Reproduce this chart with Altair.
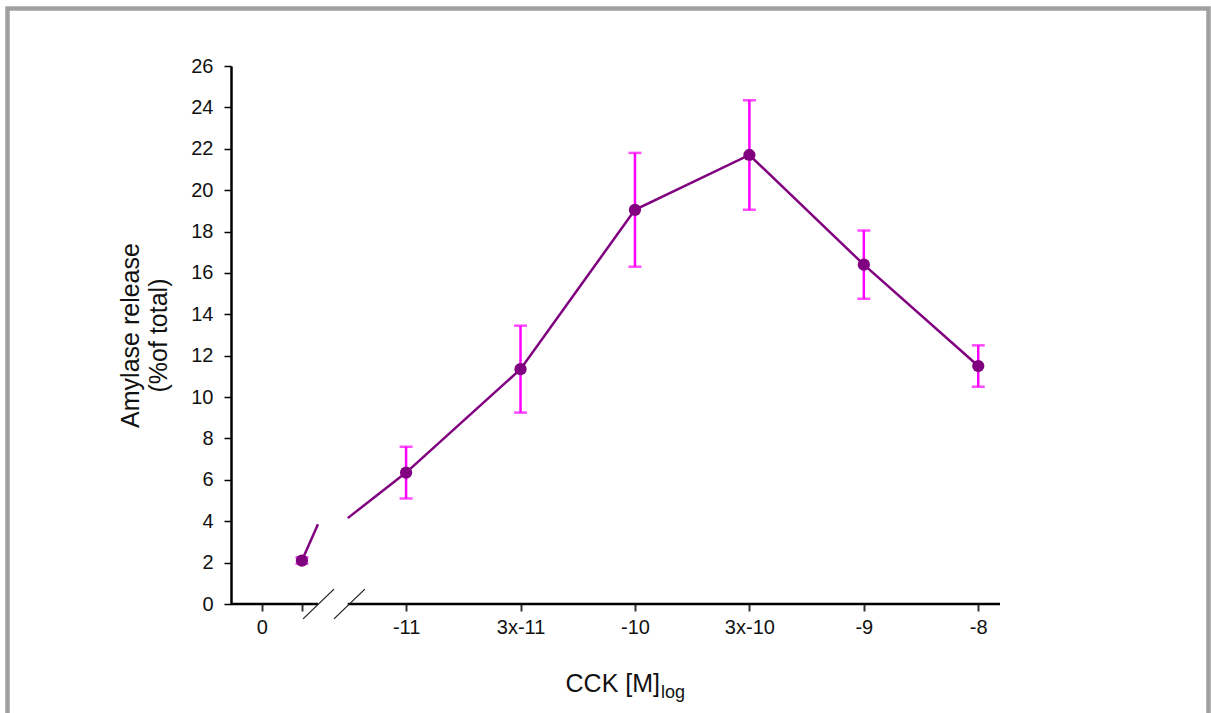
import altair as alt
import pandas as pd

# ---- data ----
tick_labels = ["0", "", "-11", "3x-11", "-10", "3x-10", "-9", "-8"]
tick_slots = [-1.26, -0.91, 0, 1, 2, 3, 4, 5]          # category slots on the x axis
point_slots = [-0.91, 0, 1, 2, 3, 4, 5]
means = [2.1, 6.35, 11.35, 19.05, 21.7, 16.4, 11.5]
errs = [0.15, 1.25, 2.1, 2.75, 2.65, 1.65, 1.0]

# broken connection around the axis break
brk_x = [-0.91, -0.77, -0.51, 0]
brk_y = [2.1, 3.85, 4.15, 6.35]
brk_id = ["a", "a", "b", "b"]

# x-axis line pieces (axis is interrupted at the break)
axis_x1 = [-1.53, -0.51]
axis_x2 = [-0.77, 5.19]
# break slashes
sl_x1 = [-0.90, -0.63]
sl_x2 = [-0.63, -0.36]
sl_y1 = [-0.72, -0.72]
sl_y2 = [0.72, 0.72]

PURPLE = "#800080"
MAGENTA = "#ff00ff"
FONT = "Liberation Sans"

pts = pd.DataFrame({"x": point_slots, "y": means,
                    "lo": [m - e for m, e in zip(means, errs)],
                    "hi": [m + e for m, e in zip(means, errs)]})
main_line = pts[pts["x"] >= 0]
brk = pd.DataFrame({"x": brk_x, "y": brk_y, "id": brk_id})
axis_df = pd.DataFrame({"x": axis_x1, "x2": axis_x2, "y": [0, 0]})
sl_df = pd.DataFrame({"x": sl_x1, "x2": sl_x2, "y": sl_y1, "y2": sl_y2})

label_expr = ("[" + ",".join("'%s'" % l for l in tick_labels) + "][indexof(["
              + ",".join(str(s) for s in tick_slots) + "], datum.value)]")

xs = alt.Scale(domain=[-1.53, 5.19], nice=False, zero=False)
ys = alt.Scale(domain=[0, 26], nice=False, zero=True)

xaxis = alt.Axis(values=tick_slots, labelExpr=label_expr, domain=False, grid=False,
                 ticks=True, tickSize=7, tickWidth=2, tickColor="#333",
                 labelFontSize=20, labelFont=FONT, labelColor="#111", labelPadding=6,
                 title=None)
yaxis = alt.Axis(values=list(range(0, 27, 2)), grid=False, domain=True,
                 domainColor="#000", domainWidth=2.5, tickSize=7, tickWidth=1.5,
                 tickColor="#000", labelFontSize=20, labelFont=FONT, labelColor="#111",
                 labelPadding=11, title=["Amylase release", "(%of total)"],
                 titleFontSize=25, titleFont=FONT, titleFontWeight="normal",
                 titleColor="#111", titlePadding=19, titleLineHeight=28)

err_rule = alt.Chart(pts).mark_rule(color=MAGENTA, strokeWidth=2.5).encode(
    x=alt.X("x:Q", scale=xs, axis=xaxis), y=alt.Y("lo:Q", scale=ys, axis=yaxis), y2="hi:Q")
cap_hi = alt.Chart(pts).mark_tick(color=MAGENTA, orient="horizontal", size=13,
                                  thickness=2.5).encode(x=alt.X("x:Q", scale=xs),
                                                         y=alt.Y("hi:Q", scale=ys))
cap_lo = alt.Chart(pts).mark_tick(color=MAGENTA, orient="horizontal", size=13,
                                  thickness=2.5).encode(x=alt.X("x:Q", scale=xs),
                                                         y=alt.Y("lo:Q", scale=ys))

line = alt.Chart(main_line).mark_line(color=PURPLE, strokeWidth=2.5).encode(
    x=alt.X("x:Q", scale=xs), y=alt.Y("y:Q", scale=ys))
brk_line = alt.Chart(brk).mark_line(color=PURPLE, strokeWidth=2.5).encode(
    x=alt.X("x:Q", scale=xs), y=alt.Y("y:Q", scale=ys), detail="id:N")
points = alt.Chart(pts).mark_point(filled=True, color=PURPLE, size=150, opacity=1,
                                   shape="circle").encode(
    x=alt.X("x:Q", scale=xs), y=alt.Y("y:Q", scale=ys))

axis_line = alt.Chart(axis_df).mark_rule(color="#000", strokeWidth=2.5).encode(
    x=alt.X("x:Q", scale=xs), x2="x2:Q", y=alt.Y("y:Q", scale=ys))
slashes = alt.Chart(sl_df).mark_rule(color="#222", strokeWidth=1.3).encode(
    x=alt.X("x:Q", scale=xs), x2="x2:Q", y=alt.Y("y:Q", scale=ys), y2="y2:Q")

title_main = alt.Chart(pd.DataFrame({"t": ["CCK [M]"]})).mark_text(
    align="right", baseline="alphabetic", fontSize=25, font=FONT, color="#111").encode(
    text="t:N", x=alt.value(429), y=alt.value(626))
title_sub = alt.Chart(pd.DataFrame({"t": ["log"]})).mark_text(
    align="left", baseline="alphabetic", fontSize=18, font=FONT, color="#111").encode(
    text="t:N", x=alt.value(430), y=alt.value(632))

frame = alt.Chart(pd.DataFrame({"k": [1]})).mark_rect(
    fill="transparent", stroke="#a0a0a0", strokeWidth=4.5).encode(
    x=alt.value(-223.5), x2=alt.value(977.5), y=alt.value(-57.5), y2=alt.value(700))

chart = alt.layer(err_rule, cap_hi, cap_lo, line, brk_line, points, axis_line, slashes,
                  title_main, title_sub, frame).properties(
    width=769, height=538,
    autosize=alt.AutoSizeParams(type="none"),
    padding={"left": 231, "top": 66, "right": 211, "bottom": 109},
    background="white",
).configure_view(strokeWidth=0)

chart.save("out.html", embed_options={"renderer": "svg", "actions": False})
